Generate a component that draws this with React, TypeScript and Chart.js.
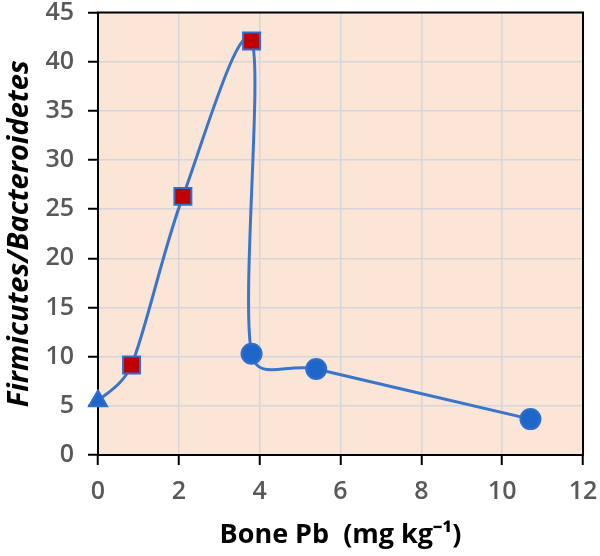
import React, { useEffect, useRef } from "react";
import { Chart, registerables } from "chart.js";

Chart.register(...registerables);

const boneLead = [0, 0.83, 2.1, 3.8, 3.8, 5.4, 10.7];
const firmicutesRatio = [5.5, 9.15, 26.3, 42.1, 10.3, 8.75, 3.65];
const markerStyles = ["triangle", "rect", "rect", "rect", "circle", "circle", "circle"];
const markerFills = ["#1F66C9", "#C00000", "#C00000", "#C00000", "#1F66C9", "#1F66C9", "#1F66C9"];
const markerSizes = [10.5, 12, 12, 12, 10, 10, 10];
const xTicks = [0, 2, 4, 6, 8, 10, 12];
const yTicks = [0, 5, 10, 15, 20, 25, 30, 35, 40, 45];
const SMOOTH = 1 / 6;
const CAP = 0.45;

const framePlugin = {
  id: "frame",
  beforeDraw(chart: any) {
    const { ctx, chartArea } = chart;
    ctx.save();
    ctx.fillStyle = "#FBE5D6";
    ctx.fillRect(chartArea.left, chartArea.top, chartArea.right - chartArea.left, chartArea.bottom - chartArea.top);
    ctx.restore();
  },
  beforeDatasetsDraw(chart: any) {
    const { ctx, chartArea } = chart;
    // Excel-style smoothing: control points from neighbouring points
    const meta = chart.getDatasetMeta(0);
    const pts = meta.data as any[];
    for (let i = 0; i < pts.length; i++) {
      const p = pts[i];
      const prev = pts[i - 1] || p;
      const next = pts[i + 1] || p;
      const dx = (next.x - prev.x) * SMOOTH;
      const dy = (next.y - prev.y) * SMOOTH;
      const len = Math.hypot(dx, dy) || 1;
      const dPrev = Math.hypot(p.x - prev.x, p.y - prev.y);
      const dNext = Math.hypot(next.x - p.x, next.y - p.y);
      const s1 = Math.min(1, (CAP * dPrev) / len);
      const s2 = Math.min(1, (CAP * dNext) / len);
      p.cp1x = p.x - dx * s1;
      p.cp1y = p.y - dy * s1;
      p.cp2x = p.x + dx * s2;
      p.cp2y = p.y + dy * s2;
    }
    if (meta.dataset) {
      meta.dataset._pointsUpdated = true;
      meta.dataset._path = undefined;
    }
    ctx.save();
    ctx.strokeStyle = "#000";
    ctx.lineWidth = 2;
    ctx.strokeRect(chartArea.left, chartArea.top, chartArea.right - chartArea.left, chartArea.bottom - chartArea.top);
    ctx.restore();
  },
};

export default function App() {
  const ref = useRef<HTMLCanvasElement>(null);
  useEffect(() => {
    if (!ref.current) return;
    const chart = new Chart(ref.current, {
      type: "scatter",
      data: {
        datasets: [
          {
            data: boneLead.map((x, i) => ({ x, y: firmicutesRatio[i] })),
            showLine: true,
            borderColor: "#3A75CC",
            borderWidth: 3,
            tension: 0.4,
            pointStyle: markerStyles as any,
            pointRadius: markerSizes,
            pointBackgroundColor: markerFills,
            pointBorderColor: "#2E6FCE",
            pointBorderWidth: 2,
            clip: false as any,
          },
        ],
      },
      options: {
        animation: false,
        responsive: false,
        maintainAspectRatio: false,
        layout: { padding: { left: 2, right: 17, top: 12, bottom: 4 } },
        plugins: { legend: { display: false }, tooltip: { enabled: false } },
        scales: {
          x: {
            type: "linear",
            min: 0,
            max: 12,
            afterBuildTicks: (s: any) => {
              s.ticks = xTicks.map((v) => ({ value: v }));
            },
            afterFit: (s: any) => {
              s.height = 97;
              s.paddingLeft = 0;
              s.paddingRight = 0;
            },
            grid: {
              color: "#D6D6DA",
              lineWidth: 1.5,
              tickColor: "#000",
              tickWidth: 2,
              tickLength: 10,
            },
            border: { display: false },
            ticks: {
              color: "#595959",
              font: { family: "Open Sans", size: 25, weight: 600 as any },
              padding: 12,
            },
            title: {
              display: true,
              text: "Bone Pb  (mg kg⁻¹)",
              color: "#000",
              font: { family: "Open Sans", size: 27, weight: "bold" },
              padding: { top: 0, bottom: 0 },
            },
          },
          y: {
            type: "linear",
            min: 0,
            max: 45,
            afterBuildTicks: (s: any) => {
              s.ticks = yTicks.map((v) => ({ value: v }));
            },
            afterFit: (s: any) => {
              s.width = 96;
              s.paddingTop = 0;
              s.paddingBottom = 0;
            },
            grid: {
              color: "#D6D6DA",
              lineWidth: 1.5,
              tickColor: "#000",
              tickWidth: 2,
              tickLength: 10,
            },
            border: { display: false },
            ticks: {
              color: "#595959",
              font: { family: "Open Sans", size: 25, weight: 600 as any },
              padding: 14,
            },
            title: {
              display: true,
              text: "Firmicutes/Bacteroidetes",
              color: "#000",
              font: { family: "Open Sans", size: 29, weight: "bold", style: "italic" },
              padding: { top: 0, bottom: 0 },
            },
          },
        },
      },
      plugins: [framePlugin],
    });
    return () => chart.destroy();
  }, []);
  return (
    <div style={{ position: "fixed", left: 0, top: 0, width: 600, height: 556, background: "#fff" }}>
      <canvas ref={ref} width={600} height={556} style={{ width: 600, height: 556 }} />
    </div>
  );
}
